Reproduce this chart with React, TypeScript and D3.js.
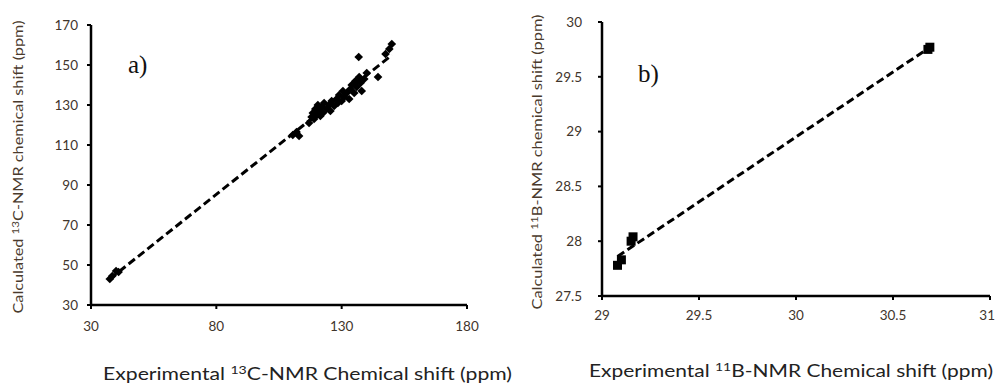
import React from "react";
import * as d3 from "d3";

// ---- Data ----
const carbonExp: number[] = [37.5, 38.5, 40, 41, 110.5, 112, 113,
  117, 118, 118.5, 119, 119.5, 120, 120.5, 121, 121.5, 122, 122.5, 123, 124, 125, 125.5, 126,
  127, 128, 128.5, 129, 130, 130.5, 131, 132, 133, 133.5, 134, 135, 135.5, 136, 137, 137.5, 138,
  139, 140, 136.8, 144.5, 147.5, 149, 150];
const carbonCalc: number[] = [43, 44.5, 47, 46.5, 115, 116.5, 114.5,
  121, 124, 126, 123, 128, 125, 130, 127, 124.5, 129, 126, 131, 128, 130, 127, 132,
  129.5, 133, 131, 135, 132, 137, 134, 136, 133, 138, 140, 136, 142, 139, 144, 141, 137,
  143, 146, 154, 144, 155.5, 158, 160.5];

const boronExp: number[] = [29.08, 29.1, 29.15, 29.16, 30.68, 30.69];
const boronCalc: number[] = [27.78, 27.83, 28.0, 28.04, 29.75, 29.77];

const carbonXTicks = [30, 80, 130, 180];
const carbonYTicks = [30, 50, 70, 90, 110, 130, 150, 170];
const boronXTicks = [29, 29.5, 30, 30.5, 31];
const boronYTicks = [27.5, 28, 28.5, 29, 29.5, 30];

const FONT = "Lato, 'Open Sans', sans-serif";
const LABEL_COLOR = "#3f352c";

function fit(xs: number[], ys: number[]) {
  const mx = d3.mean(xs)!;
  const my = d3.mean(ys)!;
  let num = 0, den = 0;
  xs.forEach((x, i) => { num += (x - mx) * (ys[i] - my); den += (x - mx) ** 2; });
  const b = num / den;
  return { a: my - b * mx, b };
}

type PanelProps = {
  xs: number[]; ys: number[];
  xDomain: [number, number]; yDomain: [number, number];
  xRange: [number, number]; yRange: [number, number];
  xTicks: number[]; yTicks: number[];
  yLabelX: number; xLabelDy: number;
  symbol: d3.SymbolType; symbolSize: number;
  tag: string; tagX: number; tagY: number;
  nucleus: string; element: string;
  xTitleX: number; xTitleY: number; xTitleLen: number;
  yTitleX: number; yTitleY: number; yTitleLen: number;
  maxLabelX?: number;
};

function Panel(p: PanelProps) {
  const x = d3.scaleLinear().domain(p.xDomain).range(p.xRange);
  const y = d3.scaleLinear().domain(p.yDomain).range(p.yRange);
  const { a, b } = fit(p.xs, p.ys);
  const x0 = d3.min(p.xs)!, x1 = d3.max(p.xs)!;
  const line = d3.line<number>().x(v => x(v)).y(v => y(a + b * v));
  const sym = d3.symbol(p.symbol, p.symbolSize)()!;
  const x0px = p.xRange[0];
  const ybot = p.yRange[0];
  return (
    <g>
      {/* trend line */}
      <path d={line([x0, x1])!} fill="none" stroke="#000" strokeWidth={3} strokeDasharray="8,4" />
      {/* points */}
      {p.xs.map((v, i) => (
        <path key={i} d={sym} transform={`translate(${x(v)},${y(p.ys[i])})`} fill="#000" />
      ))}
      {/* axes */}
      <line x1={x0px} x2={x0px} y1={p.yRange[1]} y2={ybot} stroke="#000" strokeWidth={2.5} />
      <line x1={x0px} x2={p.xRange[1]} y1={ybot} y2={ybot} stroke="#000" strokeWidth={2.5} />
      {p.yTicks.map(t => (
        <g key={"y" + t}>
          <line x1={x0px - 4} x2={x0px} y1={y(t)} y2={y(t)} stroke="#000" strokeWidth={2} />
          <text x={p.yLabelX} y={y(t)} dy="0.35em" textAnchor="end" fontSize={13.5} fontFamily={FONT} fill={LABEL_COLOR}>{t}</text>
        </g>
      ))}
      {p.xTicks.map(t => {
        const tx = x(t);
        const clip = p.maxLabelX !== undefined && tx + 8 > p.maxLabelX;
        return (
          <g key={"x" + t}>
            <line x1={tx} x2={tx} y1={ybot} y2={ybot + 4} stroke="#000" strokeWidth={2} />
            <text x={clip ? p.maxLabelX : tx} y={ybot + p.xLabelDy} dy="0.35em" textAnchor={clip ? "end" : "middle"}
              fontSize={13.5} fontFamily={FONT} fill={LABEL_COLOR}>{t}</text>
          </g>
        );
      })}
      {/* tag */}
      <text x={p.tagX} y={p.tagY} fontSize={25} fontFamily="'Liberation Serif', 'DejaVu Serif', serif" fill="#111">{p.tag}</text>
      {/* x title */}
      <text x={p.xTitleX} y={p.xTitleY} fontSize={18} fontFamily={FONT} fill="#222" textLength={p.xTitleLen} lengthAdjust="spacingAndGlyphs">
        Experimental <tspan fontSize={12} dy={-6}>{p.nucleus}</tspan><tspan dy={6}>{p.element}-NMR Chemical shift (ppm)</tspan>
      </text>
      {/* y title */}
      <text transform={`translate(${p.yTitleX},${p.yTitleY}) rotate(-90)`} x={0} y={0} textAnchor="middle" dy="0.35em"
        fontSize={14} fontFamily={FONT} fill="#4a3a2c" textLength={p.yTitleLen} lengthAdjust="spacingAndGlyphs">
        Calculated <tspan fontSize={10} dy={-4}>{p.nucleus}</tspan><tspan dy={4}>{p.element}-NMR chemical shift (ppm)</tspan>
      </text>
    </g>
  );
}

export default function App() {
  return (
    <svg width={996} height={385} style={{ position: "absolute", left: 0, top: 0, background: "#fff" }}>
      <rect width={996} height={385} fill="#fff" />
      <Panel xs={carbonExp} ys={carbonCalc} xDomain={[30, 180]} yDomain={[30, 170]}
        xRange={[91, 467]} yRange={[305, 25]} xTicks={carbonXTicks} yTicks={carbonYTicks}
        yLabelX={78} xLabelDy={21} symbol={d3.symbolDiamond2} symbolSize={48}
        tag="a)" tagX={128} tagY={73} nucleus="13" element="C"
        xTitleX={103} xTitleY={380} xTitleLen={409}
        yTitleX={18} yTitleY={167} yTitleLen={293} />
      <Panel xs={boronExp} ys={boronCalc} xDomain={[29, 31]} yDomain={[27.5, 30]}
        xRange={[602, 990]} yRange={[296, 22]} xTicks={boronXTicks} yTicks={boronYTicks}
        yLabelX={582} xLabelDy={19} symbol={d3.symbolSquare} symbolSize={81}
        tag="b)" tagX={638} tagY={82} nucleus="11" element="B"
        xTitleX={589} xTitleY={377} xTitleLen={404}
        yTitleX={537} yTitleY={162} yTitleLen={295} maxLabelX={995} />
    </svg>
  );
}
